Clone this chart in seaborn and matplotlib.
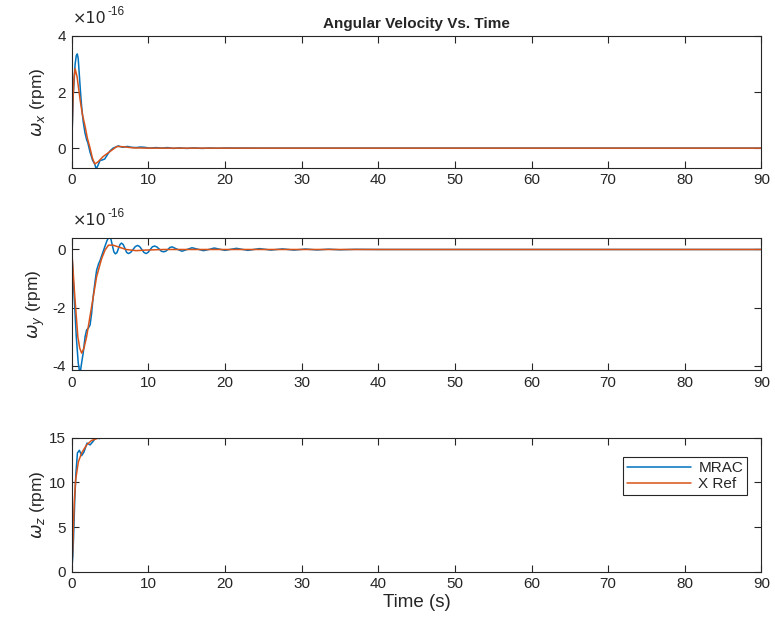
import numpy as np
import pandas as pd
import matplotlib
matplotlib.use("Agg")
import matplotlib.pyplot as plt
import seaborn as sns
from matplotlib.ticker import FuncFormatter

# ---------------- data (omega_x, omega_y in units of 1e-16 rpm) ----------------
SCALE_XY = 1e-16

tx_mrac = [0, 0.2, 0.45, 0.6, 0.73, 0.85, 1.0, 1.15, 1.3, 1.5, 1.73, 1.95, 2.1, 2.4, 2.75, 3.0, 3.2, 3.45,
           3.7, 4.0, 4.3, 4.7, 5.0, 5.4, 5.75, 6.1, 6.4, 6.7, 7.0, 7.3, 7.8, 8.4, 9.0, 9.5, 10.2, 11,
           11.8, 12.5, 13.3, 14, 15, 16, 17, 18, 19, 20, 25, 90]
wx_mrac = [0, 1.9, 3.0, 3.3, 3.36, 3.2, 2.6, 2.0, 1.48, 0.95, 0.55, 0.3, 0.2, -0.15, -0.45, -0.56, -0.75, -0.6,
           -0.44, -0.42, -0.39, -0.22, -0.1, 0.0, 0.04, 0.08, 0.05, 0.03, 0.05, 0.06, 0.03, 0.02, 0.04, 0.03, 0.0, 0.02,
           0.0, 0.02, -0.01, 0.01, -0.01, 0.01, -0.01, 0.005, -0.005, 0.005, 0, 0]

tx_ref = [0, 0.15, 0.3, 0.45, 0.7, 1.1, 1.4, 1.73, 2.05, 2.4, 2.7, 3.0, 3.4, 4.1, 5.0, 5.9, 6.7, 8.0, 10, 90]
wx_ref = [0, 1.6, 2.5, 2.83, 2.55, 1.72, 1.2, 0.8, 0.35, 0.0, -0.35, -0.56, -0.5, -0.3, -0.12, 0.06, 0.05, 0.01, 0, 0]

ty_mrac = [0, 0.3, 0.6, 0.85, 1.08, 1.3, 1.5, 1.75, 1.95, 2.2, 2.4, 2.6, 2.8, 3.05, 3.25, 3.5, 3.7, 4.0,
           4.3, 4.6, 4.9, 5.1, 5.3, 5.5, 5.7, 5.9, 6.1, 6.3, 6.5, 6.72, 6.95, 7.17, 7.4, 7.7, 8.0, 8.3,
           8.6, 8.87, 9.15, 9.42, 9.7, 9.97, 10.25, 10.52, 10.8, 11.1, 11.4, 11.7, 12.0, 12.27, 12.55,
           12.82, 13.1, 13.75, 14.4, 15.05, 15.7, 16.45, 17.2, 17.9, 18.6, 20.0, 21.5, 23.0, 24.5, 26.0,
           27.5, 29.0, 30.5, 32.0, 33.5, 35.0, 37.0, 40, 90]
wy_mrac = [0, -1.5, -3.0, -3.9, -4.3, -3.9, -3.57, -3.0, -2.77, -2.7, -2.6, -2.2, -1.63, -1.1, -0.72, -0.5, -0.38, -0.15,
           0.08, 0.3, 0.45, 0.38, 0.15, -0.08, -0.15, -0.11, 0.03, 0.17, 0.22, 0.17, 0.04, -0.1, -0.14, -0.1, 0.0, 0.1,
           0.14, 0.1, 0.0, -0.1, -0.14, -0.1, 0.0, 0.09, 0.12, 0.09, 0.02, -0.06, -0.08, -0.06, 0.0,
           0.07, 0.09, 0.01, -0.06, 0.0, 0.06, 0.01, -0.04, 0.0, 0.05, -0.03, 0.04, -0.03, 0.03, -0.02,
           0.02, -0.02, 0.015, -0.015, 0.01, -0.01, 0.005, 0, 0]

ty_ref = [0, 0.4, 0.8, 1.05, 1.3, 1.6, 1.95, 2.6, 3.25, 3.9, 4.35, 4.8, 5.4, 6.3, 7.1, 8.4, 9.7, 12, 90]
wy_ref = [0, -1.6, -3.0, -3.4, -3.57, -3.4, -3.0, -1.97, -0.94, -0.32, -0.02, 0.15, 0.15, 0.07, 0.0, -0.04, -0.02, 0, 0]

tz_mrac = [0, 0.15, 0.25, 0.4, 0.55, 0.75, 1.0, 1.3, 1.6, 2.0, 2.4, 2.8, 3.2, 3.6, 4.2, 5.0, 6.0, 7.0, 9.0, 90]
wz_mrac = [0, 1.8, 4.0, 8.0, 11.0, 13.3, 13.6, 13.0, 13.4, 14.4, 14.2, 14.6, 15.1, 14.9, 15.2, 15.05, 15.1, 15.0, 15.0, 15.0]

tz_ref = [0, 0.13, 0.22, 0.35, 0.52, 0.87, 1.3, 1.95, 2.6, 3.45, 4.5, 90]
wz_ref = [0, 2.4, 5.0, 8.0, 10.3, 12.3, 13.3, 14.2, 14.7, 14.95, 15.0, 15.0]

series_labels = ["MRAC", "X Ref"]
y_labels = [r"$\omega_x$ (rpm)", r"$\omega_y$ (rpm)", r"$\omega_z$ (rpm)"]
title = "Angular Velocity Vs. Time"
x_label = "Time (s)"
offset_base = "×10"
offset_exp = "-16"

# ---------------- style ----------------
sns.set_theme(style="white")
plt.rcParams["font.family"] = ["Liberation Sans", "DejaVu Sans"]
plt.rcParams["mathtext.fontset"] = "dejavusans"
GRAY = "#262626"
BLUE = "#0072BD"
ORANGE = "#D95319"
plt.rcParams.update({
    "axes.edgecolor": GRAY, "axes.linewidth": 0.8,
    "axes.unicode_minus": False,
    "xtick.color": GRAY, "ytick.color": GRAY,
    "xtick.labelcolor": GRAY, "ytick.labelcolor": GRAY,
    "text.color": GRAY, "axes.labelcolor": GRAY,
    "xtick.direction": "in", "ytick.direction": "in",
    "xtick.top": True, "ytick.right": True,
    "xtick.bottom": True, "ytick.left": True,
    "xtick.major.size": 5, "ytick.major.size": 5,
    "xtick.major.width": 0.8, "ytick.major.width": 0.8,
    "font.size": 10.5,
})

fig = plt.figure(figsize=(7.75, 6.26), dpi=100)
L, W = 0.0925, 0.890
ax1 = fig.add_axes([L, 0.732, W, 0.2105])
ax2 = fig.add_axes([L, 0.409, W, 0.211])
ax3 = fig.add_axes([L, 0.0867, W, 0.214])

def draw(ax, t1, v1, t2, v2, scale=1.0):
    d1 = pd.DataFrame({"t": t1, "v": np.asarray(v1, float) * scale})
    d2 = pd.DataFrame({"t": t2, "v": np.asarray(v2, float) * scale})
    sns.lineplot(data=d1, x="t", y="v", ax=ax, color=BLUE, lw=1.1, estimator=None,
                 sort=False, label=series_labels[0])
    sns.lineplot(data=d2, x="t", y="v", ax=ax, color=ORANGE, lw=1.1, estimator=None,
                 sort=False, label=series_labels[1])

draw(ax1, tx_mrac, wx_mrac, tx_ref, wx_ref, SCALE_XY)
draw(ax2, ty_mrac, wy_mrac, ty_ref, wy_ref, SCALE_XY)
draw(ax3, tz_mrac, wz_mrac, tz_ref, wz_ref)

ax1.set_ylim(-0.7e-16, 4e-16)
ax1.set_yticks([0, 2e-16, 4e-16])
ax2.set_ylim(-4.15e-16, 0.4e-16)
ax2.set_yticks([-4e-16, -2e-16, 0])
ax3.set_ylim(0, 15)
ax3.set_yticks([0, 5, 10, 15])

for ax, yl in zip([ax1, ax2, ax3], y_labels):
    ax.set_xlim(0, 90)
    ax.set_xticks(np.arange(0, 91, 10))
    ax.set_ylabel(yl, fontsize=12.5)
    ax.set_xlabel("")
    for s in ax.spines.values():
        s.set_visible(True)
        s.set_color(GRAY)
    ax.tick_params(labelsize=11, pad=4)
    ax.yaxis.set_label_coords(-0.036, 0.5)

for ax in (ax1, ax2):
    ax.yaxis.set_major_formatter(FuncFormatter(lambda v, p: f"{round(v / SCALE_XY):d}"))
    ax.annotate(offset_base, xy=(0, 1), xycoords="axes fraction", xytext=(1, 13),
                textcoords="offset pixels", ha="left", va="baseline", fontsize=11.5,
                family=["DejaVu Sans"])
    ax.annotate(offset_exp, xy=(0, 1), xycoords="axes fraction", xytext=(36, 21),
                textcoords="offset pixels", ha="left", va="baseline", fontsize=8.5)
    ax.get_legend().remove()

ax1.set_title(title, fontsize=11, fontweight="bold", pad=6)
ax3.set_xlabel(x_label, fontsize=13.5, labelpad=2)

leg = ax3.legend(loc="upper right", bbox_to_anchor=(0.979, 0.856), frameon=True,
                 fancybox=False, framealpha=1, edgecolor=GRAY, fontsize=11,
                 handlelength=4.2, borderpad=0.25, labelspacing=0.15, handletextpad=0.45,
                 borderaxespad=0)
leg.get_frame().set_linewidth(0.8)

fig.savefig("out.png", dpi=100)
